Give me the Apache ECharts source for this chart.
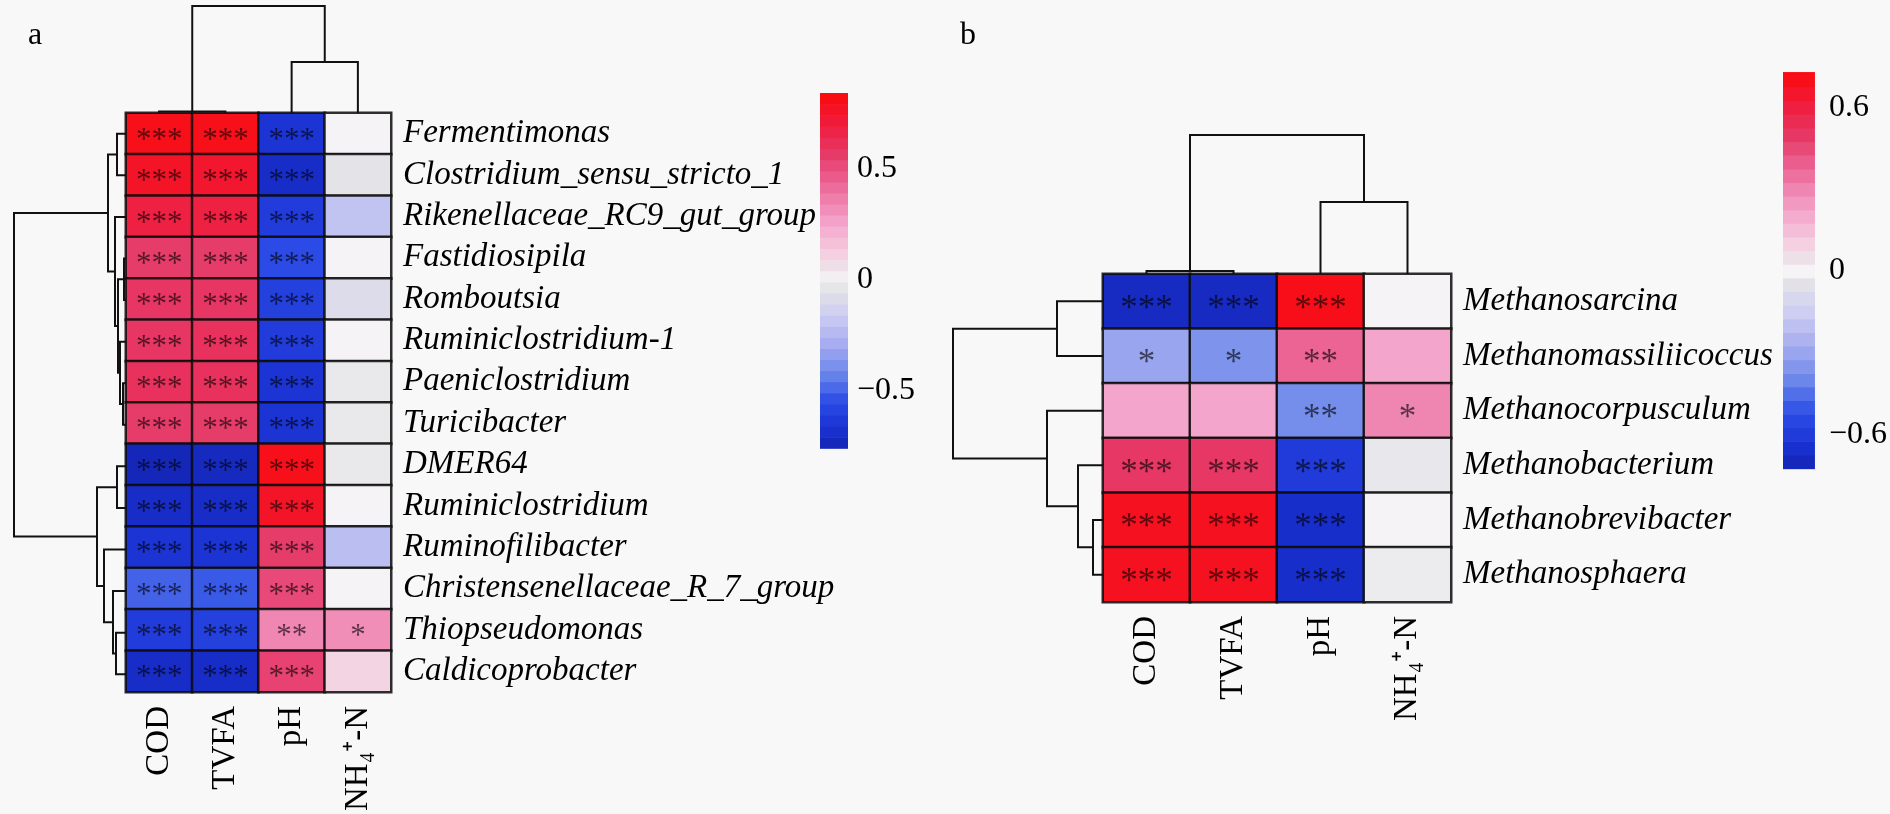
<!DOCTYPE html>
<html><head><meta charset="utf-8">
<script src="https://cdn.jsdelivr.net/npm/echarts@6/dist/echarts.min.js"></script>
<style>html,body{margin:0;padding:0;background:#f8f8f8;}#c{width:1890px;height:814px;}</style>
</head><body><div id="c"></div>
<script>
// ---------------- DATA ----------------
const envLabels = ['COD', 'TVFA', 'pH', 'NH\u2084\u207A-N'];

const genusA = ['Fermentimonas', 'Clostridium_sensu_stricto_1', 'Rikenellaceae_RC9_gut_group',
  'Fastidiosipila', 'Romboutsia', 'Ruminiclostridium-1', 'Paeniclostridium', 'Turicibacter',
  'DMER64', 'Ruminiclostridium', 'Ruminofilibacter', 'Christensenellaceae_R_7_group',
  'Thiopseudomonas', 'Caldicoprobacter'];
// correlation per genus: COD, TVFA, pH, NH4+-N
const corrA = [
  [0.80, 0.80, -0.66, 0.00],
  [0.76, 0.74, -0.70, -0.04],
  [0.68, 0.68, -0.62, -0.20],
  [0.56, 0.56, -0.55, 0.00],
  [0.58, 0.58, -0.60, -0.08],
  [0.58, 0.60, -0.62, 0.00],
  [0.60, 0.60, -0.66, -0.03],
  [0.56, 0.56, -0.66, -0.03],
  [-0.74, -0.72, 0.80, -0.03],
  [-0.70, -0.70, 0.76, 0.00],
  [-0.66, -0.66, 0.56, -0.22],
  [-0.50, -0.52, 0.52, 0.00],
  [-0.62, -0.60, 0.34, 0.32],
  [-0.70, -0.70, 0.54, 0.10]
];
const starsA = [
  ['***', '***', '***', ''], ['***', '***', '***', ''], ['***', '***', '***', ''],
  ['***', '***', '***', ''], ['***', '***', '***', ''], ['***', '***', '***', ''],
  ['***', '***', '***', ''], ['***', '***', '***', ''], ['***', '***', '***', ''],
  ['***', '***', '***', ''], ['***', '***', '***', ''], ['***', '***', '***', ''],
  ['***', '***', '**', '*'], ['***', '***', '***', '']
];
// hclust-style merges: [childA, childB, height]; negative = leaf (1-based), positive = earlier merge
const rowMergeA = [[-1, -2, 9], [-4, -5, 2], [-7, -8, 3], [-6, 3, 6], [2, 4, 8], [-3, 5, 11], [1, 6, 18],
  [-9, -10, 9], [-13, -14, 10], [-12, 9, 13], [-11, 10, 22], [8, 11, 29], [7, 12, 112]];
const colMergeA = [[-1, -2, 1.5], [-3, -4, 51], [1, 2, 107]];
const legendRangeA = [-0.76, 0.84];
const legendTicksA = [-0.5, 0, 0.5];

const genusB = ['Methanosarcina', 'Methanomassiliicoccus', 'Methanocorpusculum',
  'Methanobacterium', 'Methanobrevibacter', 'Methanosphaera'];
const corrB = [
  [-0.68, -0.68, 0.70, 0.00],
  [-0.30, -0.36, 0.38, 0.22],
  [0.22, 0.22, -0.38, 0.30],
  [0.50, 0.50, -0.60, -0.03],
  [0.68, 0.68, -0.66, 0.00],
  [0.68, 0.68, -0.66, -0.02]
];
const starsB = [
  ['***', '***', '***', ''], ['*', '*', '**', ''], ['', '', '**', '*'],
  ['***', '***', '***', ''], ['***', '***', '***', ''], ['***', '***', '***', '']
];
const rowMergeB = [[-1, -2, 46], [-5, -6, 10], [-4, 2, 25], [-3, 3, 56], [1, 4, 150]];
const colMergeB = [[-1, -2, 3], [-3, -4, 72], [1, 2, 139]];
const legendRangeB = [-0.725, 0.73];
const legendTicksB = [-0.6, 0, 0.6];

// ---------------- COLOURS ----------------
const posStops = [[0, '#f5f3f5'], [0.06, '#ece2e8'], [0.15, '#f6cde0'], [0.32, '#f3a0c8'],
  [0.5, '#ec6a9a'], [0.68, '#e63866'], [0.85, '#f01a38'], [1, '#fa0a0c']];
const negStops = [[0, '#f5f3f5'], [0.06, '#e2e2e6'], [0.2, '#cfcff2'], [0.38, '#a6acf0'],
  [0.55, '#6c88ea'], [0.72, '#2c4ce6'], [0.88, '#1a32d2'], [1, '#1424b2']];
function hex(c) { return [parseInt(c.substr(1, 2), 16), parseInt(c.substr(3, 2), 16), parseInt(c.substr(5, 2), 16)]; }
function colorOf(v, range) {
  const stops = v >= 0 ? posStops : negStops;
  let t = v >= 0 ? v / range[1] : v / range[0];
  t = Math.max(0, Math.min(1, t));
  for (let i = 1; i < stops.length; i++) {
    if (t <= stops[i][0]) {
      const a = hex(stops[i - 1][1]), b = hex(stops[i][1]);
      const f = (t - stops[i - 1][0]) / (stops[i][0] - stops[i - 1][0]);
      return 'rgb(' + a.map((x, k) => Math.round(x + (b[k] - x) * f)).join(',') + ')';
    }
  }
  return stops[stops.length - 1][1];
}

// ---------------- HELPERS ----------------
function treeSegments(merges) {
  const pos = [], hgt = [], out = [];
  merges.forEach(m => {
    const g = k => k < 0 ? [-k - 1, 0] : [pos[k - 1], hgt[k - 1]];
    const [p1, h1] = g(m[0]), [p2, h2] = g(m[1]);
    out.push([p1, p2, h1, h2, m[2]]);
    pos.push((p1 + p2) / 2); hgt.push(m[2]);
  });
  return out;
}
function heatData(corr, range) {
  const d = [];
  corr.forEach((row, r) => row.forEach((v, c) => d.push({ value: [c, r, v], itemStyle: { color: colorOf(v, range) } })));
  return d;
}
function barStripes(range, step) {
  const out = [];
  for (let lo = range[0]; lo < range[1] - 1e-9; lo += step) {
    const hi = Math.min(range[1], lo + step);
    out.push([lo, hi, (lo + hi) / 2]);
  }
  return out;
}
const SERIF = 'Liberation Serif, Times New Roman, serif';
const fmtTick = ticks => v => {
  const hit = ticks.find(t => Math.abs(t - v) < 1e-6);
  if (hit === undefined) return '';
  return hit < 0 ? '\u2212' + Math.abs(hit) : String(hit);
};

// layout (pixels) for each panel
const P = {
  a: { heat: { left: 126, top: 113, width: 265, height: 582 }, rowD: { left: 14, top: 113, width: 112, height: 582 },
       colD: { left: 126, top: 6, width: 265, height: 107 }, bar: { left: 820, top: 57.5, width: 28, height: 444 },
       barAxis: [-1, 1, 0.5], starSize: 31, starOff: 7, barMargin: 9 },
  b: { heat: { left: 1103, top: 274, width: 348, height: 328 }, rowD: { left: 953, top: 274, width: 150, height: 328 },
       colD: { left: 1103, top: 135, width: 348, height: 139 }, bar: { left: 1783, top: 25.75, width: 34, height: 490.5 },
       barAxis: [-0.9, 0.9, 0.3], starSize: 35, starOff: 8, barMargin: 14 }
};

const grid = [], xAxis = [], yAxis = [], series = [];
function addPanel(key, genus, corr, stars, rowMerge, colMerge, range, ticks) {
  const L = P[key];
  const gi = grid.length;
  // heatmap grid
  grid.push(L.heat);
  xAxis.push({ gridIndex: gi, type: 'category', data: envLabels, position: 'bottom',
    axisLine: { show: false }, axisTick: { show: false }, splitLine: { show: false },
    axisLabel: { interval: 0, rotate: 90, margin: 14, fontFamily: SERIF, fontSize: 33, color: '#000' } });
  yAxis.push({ gridIndex: gi, type: 'category', data: genus, inverse: true, position: 'right',
    axisLine: { show: false }, axisTick: { show: false }, splitLine: { show: false },
    axisLabel: { interval: 0, margin: 12, fontFamily: SERIF, fontStyle: 'italic', fontSize: 33, color: '#000' } });
  series.push({ type: 'heatmap', xAxisIndex: gi, yAxisIndex: gi, data: heatData(corr, range),
    itemStyle: { borderColor: 'rgba(10,10,10,0.85)', borderWidth: 2.5 },
    emphasis: { disabled: true },
    label: { show: true, fontFamily: SERIF, fontSize: L.starSize, color: 'rgba(0,0,0,0.62)', offset: [0, L.starOff],
      formatter: p => stars[p.value[1]][p.value[0]] } });
  // row dendrogram
  const rowSeg = treeSegments(rowMerge);
  const rootR = rowMerge[rowMerge.length - 1][2];
  grid.push(L.rowD);
  xAxis.push({ gridIndex: gi + 1, type: 'value', min: 0, max: rootR, inverse: true, show: false });
  yAxis.push({ gridIndex: gi + 1, type: 'value', min: -0.5, max: genus.length - 0.5, inverse: true, show: false });
  series.push({ type: 'custom', xAxisIndex: gi + 1, yAxisIndex: gi + 1, data: rowSeg, silent: true,
    renderItem: (params, api) => {
      const [pa, pb, ha, hb, h] = [0, 1, 2, 3, 4].map(i => api.value(i));
      return { type: 'polyline', shape: { points: [api.coord([ha, pa]), api.coord([h, pa]), api.coord([h, pb]), api.coord([hb, pb])] },
        style: { stroke: '#111', lineWidth: 2, fill: null } };
    } });
  // column dendrogram
  const colSeg = treeSegments(colMerge);
  const rootC = colMerge[colMerge.length - 1][2];
  grid.push(L.colD);
  xAxis.push({ gridIndex: gi + 2, type: 'value', min: -0.5, max: envLabels.length - 0.5, show: false });
  yAxis.push({ gridIndex: gi + 2, type: 'value', min: 0, max: rootC, show: false });
  series.push({ type: 'custom', xAxisIndex: gi + 2, yAxisIndex: gi + 2, data: colSeg, silent: true,
    renderItem: (params, api) => {
      const [pa, pb, ha, hb, h] = [0, 1, 2, 3, 4].map(i => api.value(i));
      return { type: 'polyline', shape: { points: [api.coord([pa, ha]), api.coord([pa, h]), api.coord([pb, h]), api.coord([pb, hb])] },
        style: { stroke: '#111', lineWidth: 2, fill: null } };
    } });
  // colour bar
  grid.push(L.bar);
  xAxis.push({ gridIndex: gi + 3, type: 'value', min: 0, max: 1, show: false });
  yAxis.push({ gridIndex: gi + 3, type: 'value', min: L.barAxis[0], max: L.barAxis[1], interval: L.barAxis[2], position: 'right',
    axisLine: { show: false }, axisTick: { show: false }, splitLine: { show: false },
    axisLabel: { margin: L.barMargin, fontFamily: SERIF, fontSize: 32, color: '#000', formatter: fmtTick(ticks) } });
  series.push({ type: 'custom', xAxisIndex: gi + 3, yAxisIndex: gi + 3, data: barStripes(range, 0.05), silent: true,
    renderItem: (params, api) => {
      const lo = api.value(0), hi = api.value(1), mid = api.value(2);
      const p1 = api.coord([0, hi]), p2 = api.coord([1, lo]);
      return { type: 'rect', shape: { x: p1[0], y: p1[1], width: p2[0] - p1[0], height: p2[1] - p1[1] + 0.6 },
        style: { fill: colorOf(mid, range) } };
    } });
}
addPanel('a', genusA, corrA, starsA, rowMergeA, colMergeA, legendRangeA, legendTicksA);
addPanel('b', genusB, corrB, starsB, rowMergeB, colMergeB, legendRangeB, legendTicksB);

const chart = echarts.init(document.getElementById('c'), null, { renderer: 'canvas' });
chart.setOption({
  backgroundColor: '#f8f8f8',
  animation: false,
  grid, xAxis, yAxis, series,
  graphic: [
    { type: 'text', left: 28, top: 20, style: { text: 'a', font: '32px ' + SERIF, fill: '#000' } },
    { type: 'text', left: 960, top: 20, style: { text: 'b', font: '32px ' + SERIF, fill: '#000' } }
  ]
});
</script></body></html>
